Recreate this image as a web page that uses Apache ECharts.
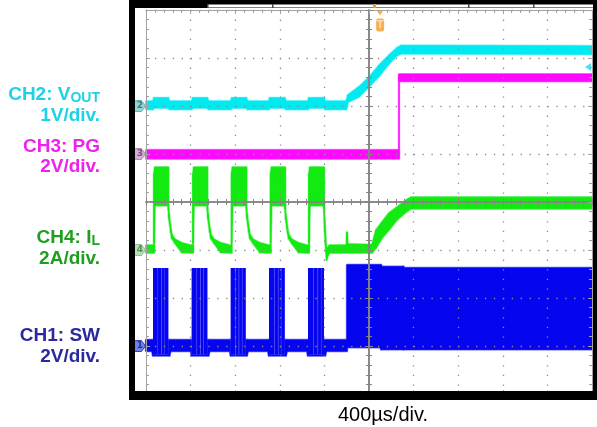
<!DOCTYPE html>
<html>
<head>
<meta charset="utf-8">
<script src="https://cdn.jsdelivr.net/npm/echarts/dist/echarts.min.js"></script>
<style>
  html, body { margin: 0; padding: 0; background: #fff; }
  #scope { width: 597px; height: 427px; }
</style>
</head>
<body>
<div id="scope"></div>
<script>
// Time base: 400 µs/div, 10 divisions, trigger at the centre. Times in ms.
const timeRange = [-2.0, 2.0];
const timeStep = 0.4;

// Each trace row: [time ms, lower envelope, upper envelope] in physical units.
// CH2: output voltage (V)
const voutRows = [
  [-2.000, -0.07, 0.10],
  [-1.937, -0.07, 0.10], [-1.930, -0.04, 0.17], [-1.800, -0.04, 0.17], [-1.790, -0.07, 0.10],
  [-1.590, -0.07, 0.10], [-1.580, -0.04, 0.17], [-1.450, -0.04, 0.17], [-1.440, -0.07, 0.10],
  [-1.240, -0.07, 0.10], [-1.230, -0.04, 0.17], [-1.100, -0.04, 0.17], [-1.090, -0.07, 0.10],
  [-0.897, -0.07, 0.10], [-0.890, -0.04, 0.17], [-0.756, -0.04, 0.17], [-0.745, -0.07, 0.10],
  [-0.547, -0.07, 0.10], [-0.540, -0.04, 0.17], [-0.404, -0.04, 0.17], [-0.395, -0.07, 0.10],
  [-0.205, -0.07, 0.10], [-0.197, -0.02, 0.16], [-0.190, 0.08, 0.23], [-0.090, 0.19, 0.40],
  [0.000, 0.40, 0.60], [0.090, 0.62, 0.85], [0.180, 0.88, 1.06], [0.250, 1.05, 1.21],
  [0.290, 1.09, 1.26], [2.000, 1.08, 1.25]
];

// CH3: power-good (V)
const pgRows = [
  [-2.000, -0.20, 0.17], [0.269, -0.20, 0.17], [0.269, 3.03, 3.33], [2.000, 3.03, 3.33]
];

// CH4: inductor current (A)
const ilRows = [
  [-2.000, -0.12, 0.20],
  [-1.928, -0.12, 0.20], [-1.928, 0.30, 3.20], [-1.920, 1.85, 3.45], [-1.800, 1.85, 3.45], [-1.800, 1.70, 2.00],
  [-1.794, 1.30, 1.50], [-1.778, 0.75, 0.92], [-1.768, 0.48, 0.65], [-1.740, 0.28, 0.45], [-1.680, -0.10, 0.30], [-1.600, -0.12, 0.20],
  [-1.578, -0.12, 0.20], [-1.578, 0.30, 3.20], [-1.570, 1.85, 3.45], [-1.450, 1.85, 3.45], [-1.450, 1.70, 2.00],
  [-1.444, 1.30, 1.50], [-1.428, 0.75, 0.92], [-1.418, 0.48, 0.65], [-1.390, 0.28, 0.45], [-1.330, -0.10, 0.30], [-1.250, -0.12, 0.20],
  [-1.232, -0.12, 0.20], [-1.232, 0.30, 3.20], [-1.224, 1.85, 3.45], [-1.100, 1.85, 3.45], [-1.100, 1.70, 2.00],
  [-1.094, 1.30, 1.50], [-1.078, 0.75, 0.92], [-1.068, 0.48, 0.65], [-1.040, 0.28, 0.45], [-0.980, -0.10, 0.30], [-0.900, -0.12, 0.20],
  [-0.882, -0.12, 0.20], [-0.882, 0.30, 3.20], [-0.874, 1.85, 3.45], [-0.753, 1.85, 3.45], [-0.753, 1.70, 2.00],
  [-0.747, 1.30, 1.50], [-0.731, 0.75, 0.92], [-0.721, 0.48, 0.65], [-0.693, 0.28, 0.45], [-0.633, -0.10, 0.30], [-0.560, -0.12, 0.20],
  [-0.538, -0.12, 0.20], [-0.538, 0.30, 3.20], [-0.530, 1.85, 3.45], [-0.404, 1.85, 3.45], [-0.404, 1.70, 2.00],
  [-0.398, 0.90, 1.30], [-0.390, 0.20, 0.60], [-0.380, -0.42, -0.10], [-0.370, -0.25, 0.10], [-0.355, -0.12, 0.20],
  [-0.203, -0.12, 0.20], [-0.197, -0.10, 0.75], [-0.191, -0.12, 0.25],
  [0.027, -0.12, 0.22], [0.063, 0.08, 0.83], [0.117, 0.50, 1.17], [0.179, 0.83, 1.54],
  [0.251, 1.25, 1.79], [0.332, 1.58, 2.08], [0.377, 1.72, 2.20], [2.000, 1.72, 2.20]
];

// CH1: switch node (V) – idle baseline, burst pulses, continuous switching
const swBaseRows = [
  [-2.000, -0.21, 0.25],
  [-1.945, -0.21, 0.25], [-1.937, -0.40, 0.25], [-1.790, -0.40, 0.25], [-1.780, -0.21, 0.25],
  [-1.598, -0.21, 0.25], [-1.590, -0.40, 0.25], [-1.440, -0.40, 0.25], [-1.430, -0.21, 0.25],
  [-1.248, -0.21, 0.25], [-1.240, -0.40, 0.25], [-1.096, -0.40, 0.25], [-1.086, -0.21, 0.25],
  [-0.905, -0.21, 0.25], [-0.897, -0.40, 0.25], [-0.746, -0.40, 0.25], [-0.736, -0.21, 0.25],
  [-0.555, -0.21, 0.25], [-0.547, -0.40, 0.25], [-0.394, -0.40, 0.25], [-0.384, -0.21, 0.25],
  [-0.197, -0.21, 0.25]
];
const swBlockRows = [
  [-0.197, -0.05, 3.38], [0.108, -0.05, 3.38], [0.108, -0.14, 3.30],
  [0.310, -0.14, 3.30], [0.310, -0.14, 3.25], [2.000, -0.14, 3.25]
];
const swBurstSpans = [
  [-1.937, -1.800], [-1.590, -1.450], [-1.240, -1.106], [-0.897, -0.756], [-0.547, -0.404]
];
const swPulses = [
  [-1.937, -1.896], [-1.892, -1.864], [-1.858, -1.839], [-1.835, -1.800],
  [-1.590, -1.547], [-1.542, -1.514], [-1.508, -1.487], [-1.482, -1.450],
  [-1.240, -1.200], [-1.195, -1.170], [-1.164, -1.140], [-1.135, -1.106],
  [-0.897, -0.850], [-0.845, -0.817], [-0.812, -0.790], [-0.786, -0.756],
  [-0.547, -0.500], [-0.495, -0.462], [-0.456, -0.431], [-0.427, -0.404]
];
const swPulseLow = -0.35;
const swPulseHigh = 3.25;

// Trigger settings
const trigTime = 0.1;     // ms
const trigLevel = 0.81;   // V on CH2

// Channel vertical settings: ground position (divisions from centre) and units per division
const channels = {
  ch1: { id: '1', offset: -3, perDiv: 2 },
  ch2: { id: '2', offset: 2, perDiv: 1 },
  ch3: { id: '3', offset: 1, perDiv: 2 },
  ch4: { id: '4', offset: -1, perDiv: 2 }
};

const colors = {
  ch1: { core: '#0505f0', halo: '#6a6aff', marker: '#4a62e6', border: '#1c1cb8', markerText: '#14206e' },
  ch2: { core: '#00eaf2', halo: '#8ef3f7', marker: '#74cccc', border: '#4aa8a8', markerText: '#3e5e5e' },
  ch3: { core: '#ff08ff', halo: '#ff9dff', marker: '#c99ac9', border: '#a878a8', markerText: '#5e3e5e' },
  ch4: { core: '#12ea12', halo: '#98f498', marker: '#a4d8a4', border: '#78b878', markerText: '#4e6e4e' }
};

// ---- helpers -------------------------------------------------------------
function toDiv(rows, ch) {
  return rows.map(r => [r[0], ch.offset + r[1] / ch.perDiv, ch.offset + r[2] / ch.perDiv]);
}

// Envelope band drawn as consecutive quads between rows
function bandSeries(rows, fill, lineWidth, z) {
  return {
    type: 'custom',
    coordinateSystem: 'cartesian2d',
    xAxisIndex: 0, yAxisIndex: 0,
    data: rows,
    encode: { x: 0, y: [1, 2] },
    silent: true,
    z: z,
    renderItem: function (params, api) {
      const i = params.dataIndex;
      if (i >= rows.length - 1) return null;
      const a = rows[i], b = rows[i + 1];
      const pts = [
        api.coord([a[0], a[1]]), api.coord([b[0], b[1]]),
        api.coord([b[0], b[2]]), api.coord([a[0], a[2]])
      ];
      return {
        type: 'polygon',
        shape: { points: pts },
        style: { fill: fill, stroke: fill, lineWidth: lineWidth, lineJoin: 'round' }
      };
    }
  };
}

// Rectangles [t0, t1, lo, hi]
function rectSeries(items, fill, z) {
  return {
    type: 'custom',
    coordinateSystem: 'cartesian2d',
    xAxisIndex: 0, yAxisIndex: 0,
    data: items,
    encode: { x: [0, 1], y: [2, 3] },
    silent: true,
    z: z,
    renderItem: function (params, api) {
      const p0 = api.coord([api.value(0), api.value(3)]);
      const p1 = api.coord([api.value(1), api.value(2)]);
      return {
        type: 'rect',
        shape: { x: p0[0], y: p0[1], width: Math.max(1, p1[0] - p0[0]), height: p1[1] - p0[1] },
        style: { fill: fill }
      };
    }
  };
}

function traceSeries(rows, ch, col) {
  const d = toDiv(rows, ch);
  return [bandSeries(d, col.halo, 2.4, 1), bandSeries(d, col.core, 1, 2)];
}

// ---- layout --------------------------------------------------------------
const G = { left: 146, top: 10, width: 446, height: 384 };
const dotColor = '#8d8d8d';
const edgeColor = '#a2a2a2';
const centreColor = '#858585';

function edgeX(pos) {
  return {
    gridIndex: 0, type: 'value', position: pos, min: timeRange[0], max: timeRange[1], interval: timeStep,
    z: 3,
    axisLine: { onZero: false, lineStyle: { color: edgeColor, width: 1 } },
    axisTick: { inside: true, length: 4, lineStyle: { color: edgeColor } },
    minorTick: { show: true, splitNumber: 5, length: 3, lineStyle: { color: edgeColor } },
    axisLabel: { show: false },
    splitLine: { show: pos === 'bottom', lineStyle: { color: dotColor, width: 1.3, type: [1.3, 8.3] } },
    minorSplitLine: { show: false }
  };
}
function edgeY(pos) {
  return {
    gridIndex: 0, type: 'value', position: pos, min: -4, max: 4, interval: 1,
    z: 3,
    axisLine: { onZero: false, lineStyle: { color: edgeColor, width: 1 } },
    axisTick: { inside: true, length: 4, lineStyle: { color: edgeColor } },
    minorTick: { show: true, splitNumber: 5, length: 3, lineStyle: { color: edgeColor } },
    axisLabel: { show: false },
    splitLine: { show: pos === 'left', lineStyle: { color: dotColor, width: 1.3, type: [1.3, 7.62] } }
  };
}
function centreX(gi, inside) {
  return {
    gridIndex: gi, type: 'value', min: timeRange[0], max: timeRange[1], interval: timeStep,
    z: 3,
    axisLine: { onZero: true, lineStyle: { color: centreColor, width: 1.6 } },
    axisTick: { inside: inside, length: 4, lineStyle: { color: centreColor } },
    minorTick: { show: true, splitNumber: 5, length: 3, lineStyle: { color: centreColor } },
    axisLabel: { show: false }, splitLine: { show: false }
  };
}
function centreY(gi, inside) {
  return {
    gridIndex: gi, type: 'value', min: -4, max: 4, interval: 1,
    z: 3,
    axisLine: { onZero: true, lineStyle: { color: centreColor, width: 1.6 } },
    axisTick: { inside: inside, length: 4, lineStyle: { color: centreColor } },
    minorTick: { show: true, splitNumber: 5, length: 3, lineStyle: { color: centreColor } },
    axisLabel: { show: false }, splitLine: { show: false }
  };
}

// ---- series ----------------------------------------------------------------
const series = [];
series.push(...traceSeries(voutRows, channels.ch2, colors.ch2));
series.push(...traceSeries(pgRows, channels.ch3, colors.ch3));
series.push(...traceSeries(ilRows, channels.ch4, colors.ch4));
series.push(...traceSeries(swBaseRows, channels.ch1, colors.ch1));
series.push(...traceSeries(swBlockRows, channels.ch1, colors.ch1));

const c1 = channels.ch1;
const burstRects = swBurstSpans.map(s => [s[0], s[1], c1.offset + swPulseLow / c1.perDiv, c1.offset + swPulseHigh / c1.perDiv]);
const pulseRects = swPulses.map(s => [s[0], s[1], c1.offset + swPulseLow / c1.perDiv, c1.offset + swPulseHigh / c1.perDiv]);
series.push(rectSeries(burstRects, colors.ch1.halo, 2));
series.push(rectSeries(pulseRects, colors.ch1.core, 2));

// Ground reference markers at the left edge
const markerPath = 'path://M0,0L7,0L11,5.5L7,11L0,11Z';
const markerData = ['ch2', 'ch3', 'ch4', 'ch1'].map(k => ({
  value: [timeRange[0], channels[k].offset],
  itemStyle: { color: colors[k].marker, borderColor: colors[k].border, borderWidth: 1 },
  label: { formatter: channels[k].id, color: colors[k].markerText }
}));
series.push({
  type: 'scatter', xAxisIndex: 0, yAxisIndex: 0, clip: false, silent: true, z: 6,
  symbol: markerPath, symbolSize: [11, 11], symbolOffset: [-6, 0], symbolKeepAspect: false,
  label: { show: true, position: 'inside', fontSize: 9, fontWeight: 'bold', fontFamily: 'DejaVu Sans' },
  data: markerData
});

// Trigger level (right edge) and trigger position (top edge)
series.push({
  type: 'scatter', xAxisIndex: 0, yAxisIndex: 0, clip: false, silent: true, z: 6,
  data: [
    { value: [timeRange[1], channels.ch2.offset + trigLevel / channels.ch2.perDiv],
      symbol: 'path://M0,4L6,0L6,8Z', symbolSize: [6, 8], symbolOffset: [-4, 0],
      itemStyle: { color: '#22d8e6' } },
    { value: [trigTime, 4], symbol: 'path://M0,0L6,0L3,5Z', symbolSize: [6, 5], symbolOffset: [0, 3],
      itemStyle: { color: '#f59a2a' } },
    { value: [trigTime, 4], symbol: 'roundRect', symbolSize: [8, 13], symbolOffset: [0, 15],
      itemStyle: { color: '#f59a2a' },
      label: { show: true, position: 'inside', formatter: 'T', color: '#ffe6bf',
               fontSize: 10, fontWeight: 'bold', fontFamily: 'DejaVu Sans' } }
  ]
});

// ---- text labels -----------------------------------------------------------
const fontFamily = '"Liberation Sans", Arial, sans-serif';
const measureCtx = document.createElement('canvas').getContext('2d');
function textWidth(t, font) { measureCtx.font = font; return measureCtx.measureText(t).width; }

// parts: [text, size, baseline drop]
function rightLabel(parts, xRight, baseline, color) {
  const out = [];
  let cursor = xRight;
  for (let i = parts.length - 1; i >= 0; i--) {
    const [t, size, drop] = parts[i];
    const font = 'bold ' + size + 'px ' + fontFamily;
    const w = textWidth(t, font);
    cursor -= w;
    out.push({
      type: 'text', x: cursor, y: baseline + (drop || 0) - 0.31 * size, z: 50,
      style: { text: t, font: font, fill: color, textAlign: 'left', textVerticalAlign: 'middle', align: 'left', verticalAlign: 'middle' }
    });
  }
  return out;
}

const labelX = 100;
const cCyan = '#1ed2e4', cMag = '#ee22ee', cGreen = '#1f9f1f', cNavy = '#2a2a9e';
const texts = [].concat(
  rightLabel([['CH2: V', 19], ['OUT', 14, 1.5]], labelX, 101, cCyan),
  rightLabel([['1V/div.', 19]], labelX, 121.5, cCyan),
  rightLabel([['CH3: PG', 19]], labelX, 152.3, cMag),
  rightLabel([['2V/div.', 19]], labelX, 172.5, cMag),
  rightLabel([['CH4: I', 19], ['L', 14, 1.5]], labelX, 244, cGreen),
  rightLabel([['2A/div.', 19]], labelX, 264.5, cGreen),
  rightLabel([['CH1: SW', 19]], labelX, 341.3, cNavy),
  rightLabel([['2V/div.', 19]], labelX, 362.5, cNavy)
);
texts.push({
  type: 'text', x: 383, y: 422 - 0.31 * 20, z: 50,
  style: { text: '400µs/div.', font: '20px ' + fontFamily, fill: '#000',
           textAlign: 'center', textVerticalAlign: 'middle', align: 'center', verticalAlign: 'middle' }
});

// Instrument bezel around the graticule
const frame = [
  { type: 'rect', z: 40, shape: { x: 129, y: 0, width: 468, height: 8 }, style: { fill: '#000' } },
  { type: 'rect', z: 40, shape: { x: 129, y: 391, width: 468, height: 9 }, style: { fill: '#000' } },
  { type: 'rect', z: 40, shape: { x: 129, y: 0, width: 6, height: 400 }, style: { fill: '#000' } },
  { type: 'rect', z: 40, shape: { x: 593, y: 0, width: 4, height: 400 }, style: { fill: '#000' } },
  { type: 'rect', z: 41, shape: { x: 207, y: 4.5, width: 386, height: 3 }, style: { fill: '#fff' } },
  { type: 'rect', z: 42, shape: { x: 207, y: 4, width: 1.5, height: 4 }, style: { fill: '#444' } },
  { type: 'rect', z: 42, shape: { x: 272, y: 4, width: 1.5, height: 4 }, style: { fill: '#444' } },
  { type: 'rect', z: 42, shape: { x: 468, y: 4, width: 1.5, height: 4 }, style: { fill: '#444' } },
  { type: 'rect', z: 42, shape: { x: 533, y: 4, width: 1.5, height: 4 }, style: { fill: '#444' } },
  { type: 'rect', z: 42, shape: { x: 373, y: 4, width: 3, height: 4 }, style: { fill: '#f59a2a' } }
];

const chart = echarts.init(document.getElementById('scope'), null, { renderer: 'canvas' });
chart.setOption({
  animation: false,
  backgroundColor: '#fff',
  grid: [
    Object.assign({ show: false }, G),
    Object.assign({ show: false }, G),
    Object.assign({ show: false }, G)
  ],
  xAxis: [edgeX('bottom'), edgeX('top'), centreX(1, true), centreX(2, false)],
  yAxis: [edgeY('left'), edgeY('right'), centreY(1, true), centreY(2, false)],
  series: series,
  graphic: { elements: frame.concat(texts) }
});
</script>
</body>
</html>
